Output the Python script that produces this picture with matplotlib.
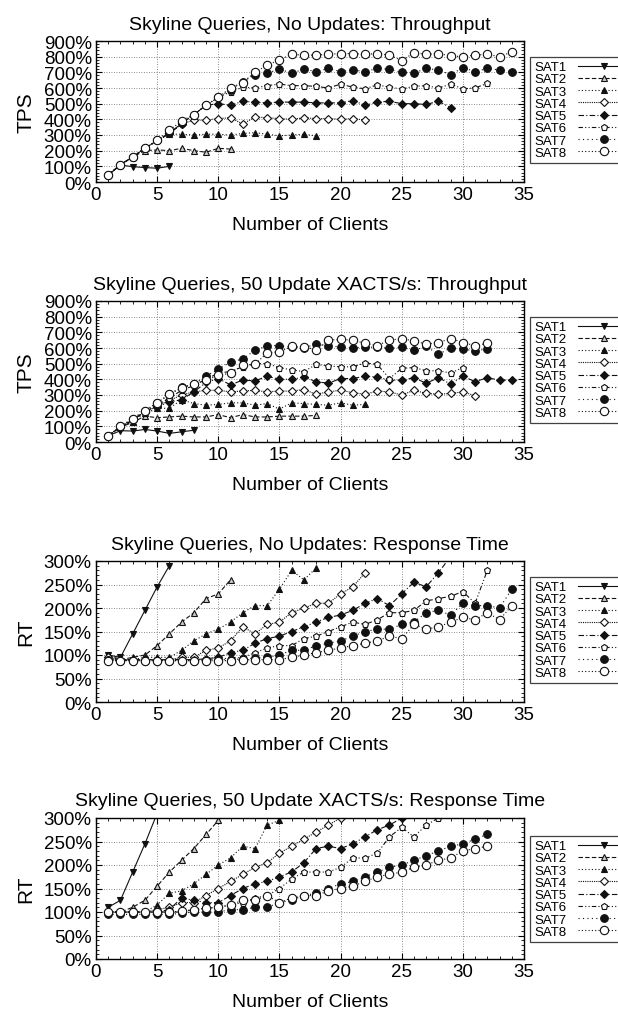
import numpy as np
import matplotlib
matplotlib.use('Agg')
import matplotlib.pyplot as plt
from matplotlib.ticker import MultipleLocator, FuncFormatter

plt.rcParams.update({'font.family': 'Liberation Sans',
                     'axes.linewidth': 1.0,
                     'xtick.direction': 'in',
                     'ytick.direction': 'in',
                     'xtick.top': True,
                     'ytick.right': True})

labels = ['SAT1', 'SAT2', 'SAT3', 'SAT4', 'SAT5', 'SAT6', 'SAT7', 'SAT8']

# Throughput, no updates (percent)
tps_noupd = [
    [45, 108, 98, 92, 88, 100],
    [45, 110, 160, 200, 205, 200, 215, 200, 190, 215, 210],
    [45, 110, 160, 215, 265, 305, 305, 300, 305, 305, 300, 310, 315, 305, 295, 300, 305, 295],
    [45, 110, 160, 215, 265, 310, 370, 395, 395, 405, 410, 370, 415, 410, 405, 400, 410, 405,
     405, 400, 405, 395],
    [45, 110, 160, 215, 265, 310, 370, 430, 490, 500, 490, 515, 510, 505, 510, 510, 510, 505,
     505, 505, 520, 490, 510, 515, 500, 500, 495, 515, 475],
    [45, 110, 160, 215, 265, 310, 375, 430, 490, 540, 575, 605, 600, 615, 625, 615, 615, 610,
     600, 625, 605, 595, 620, 605, 595, 610, 615, 600, 625, 595, 600, 630],
    [45, 110, 160, 215, 265, 310, 375, 430, 490, 540, 590, 640, 685, 695, 720, 695, 720, 705,
     725, 705, 715, 705, 725, 720, 700, 695, 725, 715, 685, 730, 705, 725, 715, 705],
    [45, 110, 160, 215, 265, 330, 390, 430, 490, 540, 600, 635, 700, 745, 780, 815, 810, 810,
     815, 820, 820, 815, 820, 810, 775, 825, 815, 820, 805, 800, 810, 815, 800, 830],
]

# Throughput, 50 update XACTS/s (percent)
tps_upd = [
    [40, 72, 70, 80, 70, 55, 65, 75],
    [40, 95, 125, 165, 155, 160, 165, 160, 160, 175, 155, 175, 160, 160, 165, 165, 165, 170],
    [40, 95, 130, 185, 215, 215, 270, 245, 235, 240, 250, 250, 235, 245, 210, 250, 245, 240,
     235, 250, 235, 240],
    [40, 95, 140, 190, 230, 265, 300, 320, 330, 330, 320, 325, 330, 320, 325, 325, 335, 305,
     320, 330, 315, 305, 325, 320, 300, 330, 310, 305, 310, 320, 295],
    [40, 95, 140, 195, 225, 255, 270, 320, 380, 405, 365, 395, 390, 420, 400, 400, 415, 385,
     375, 405, 405, 420, 415, 395, 395, 410, 375, 410, 370, 420, 385, 410, 395, 395],
    [40, 95, 140, 195, 235, 280, 330, 360, 400, 440, 450, 480, 500, 500, 475, 460, 450, 495,
     485, 480, 480, 505, 495, 405, 470, 475, 455, 455, 440, 475],
    [40, 100, 150, 200, 250, 305, 350, 370, 420, 465, 510, 530, 585, 615, 615, 605, 600, 625,
     615, 605, 600, 605, 605, 600, 605, 585, 610, 560, 600, 595, 580, 595],
    [40, 100, 145, 200, 250, 305, 345, 370, 395, 425, 440, 490, 495, 570, 575, 610, 605, 590,
     650, 655, 650, 630, 615, 650, 660, 645, 625, 635, 660, 635, 615, 630],
]

# Response time, no updates (percent)
rt_noupd = [
    [100, 95, 145, 195, 245, 290],
    [100, 90, 95, 100, 120, 145, 170, 190, 220, 230, 260],
    [95, 90, 90, 95, 95, 95, 110, 130, 145, 155, 170, 190, 205, 205, 240, 280, 260, 285],
    [95, 90, 90, 90, 90, 90, 95, 95, 110, 115, 130, 160, 145, 165, 170, 190, 200, 210, 210,
     230, 245, 275],
    [90, 90, 90, 90, 90, 90, 90, 90, 92, 95, 105, 110, 125, 135, 140, 150, 160, 170, 180, 185,
     195, 210, 220, 205, 230, 255, 245, 275, 310],
    [90, 90, 90, 90, 90, 90, 90, 90, 90, 92, 93, 95, 105, 115, 120, 120, 135, 140, 150, 160,
     170, 165, 175, 190, 190, 195, 215, 220, 225, 235, 210, 280],
    [90, 88, 88, 88, 88, 88, 88, 88, 90, 90, 90, 92, 93, 95, 100, 110, 110, 120, 125, 130,
     140, 150, 155, 155, 165, 170, 190, 195, 185, 210, 205, 205, 200, 240],
    [88, 88, 88, 88, 88, 88, 88, 88, 88, 88, 88, 90, 90, 90, 90, 95, 100, 105, 110, 115,
     120, 125, 130, 140, 135, 165, 155, 160, 170, 180, 175, 190, 175, 205],
]

# Response time, 50 update XACTS/s (percent)
rt_upd = [
    [110, 125, 185, 245, 310],
    [100, 100, 110, 125, 155, 185, 210, 235, 265, 295],
    [100, 100, 100, 100, 115, 140, 145, 160, 180, 200, 215, 240, 235, 285, 295],
    [100, 100, 100, 100, 105, 110, 120, 120, 135, 150, 165, 180, 195, 205, 225, 240, 255,
     270, 285, 300],
    [100, 100, 100, 100, 100, 105, 130, 125, 120, 120, 135, 150, 160, 165, 175, 185, 205,
     235, 240, 235, 245, 260, 275, 285, 300],
    [100, 100, 100, 100, 100, 100, 100, 105, 108, 110, 115, 120, 130, 135, 150, 170, 185,
     185, 185, 195, 215, 215, 225, 260, 280, 260, 285, 300],
    [95, 95, 95, 95, 95, 95, 97, 100, 100, 100, 105, 105, 110, 110, 120, 125, 135, 140, 150,
     160, 165, 175, 185, 195, 200, 210, 220, 230, 240, 245, 255, 265],
    [100, 100, 100, 100, 100, 100, 102, 105, 108, 110, 115, 125, 125, 135, 120, 130, 135,
     135, 145, 150, 155, 165, 175, 180, 185, 195, 200, 210, 215, 230, 235, 240],
]

titles = ['Skyline Queries, No Updates: Throughput',
          'Skyline Queries, 50 Update XACTS/s: Throughput',
          'Skyline Queries, No Updates: Response Time',
          'Skyline Queries, 50 Update XACTS/s: Response Time']
ylabels = ['TPS', 'TPS', 'RT', 'RT']

styles = [
    dict(ls='-', marker='v', mfc='#111111', ms=4.5),
    dict(ls=(0, (4, 2)), marker='^', mfc='#cccccc', ms=5),
    dict(ls=(0, (1, 2)), marker='^', mfc='#111111', ms=4.5),
    dict(ls=(0, (1, 1)), marker='D', mfc='white', ms=4),
    dict(ls=(0, (5, 2, 1, 2)), marker='D', mfc='#111111', ms=4),
    dict(ls=(0, (4, 2, 1, 2, 1, 2)), marker='p', mfc='white', ms=5),
    dict(ls=(0, (1, 3)), marker='o', mfc='#111111', ms=5.5),
    dict(ls=(0, (1, 2)), marker='o', mfc='white', ms=6),
]

fig = plt.figure(figsize=(6.18, 10.2), dpi=100)
W, H = 618.0, 1020.0
bottoms = [183, 443, 703, 960]
legtops = [58, 318, 578, 837]
panels = [tps_noupd, tps_upd, rt_noupd, rt_upd]

for k in range(4):
    ax = fig.add_axes([96 / W, 1 - bottoms[k] / H, 428 / W, 141 / H])
    for i, vals in enumerate(panels[k]):
        x = np.arange(1, len(vals) + 1)
        st = styles[i]
        ax.plot(x, vals, color='#111111', lw=0.8, ls=st['ls'], marker=st['marker'],
                mfc=st['mfc'], mec='#111111', mew=0.8, ms=st['ms'], label=labels[i])
    ax.set_xlim(0, 35)
    ax.xaxis.set_major_locator(MultipleLocator(5))
    ax.xaxis.set_minor_locator(MultipleLocator(1))
    if k < 2:
        ax.set_ylim(0, 900)
        ax.yaxis.set_major_locator(MultipleLocator(100))
        ax.yaxis.set_minor_locator(MultipleLocator(20))
    else:
        ax.set_ylim(0, 300)
        ax.yaxis.set_major_locator(MultipleLocator(50))
        ax.yaxis.set_minor_locator(MultipleLocator(10))
    ax.yaxis.set_major_formatter(FuncFormatter(lambda v, p: '%d%%' % v))
    ax.tick_params(which='major', length=4, width=0.8, labelsize=13.5, pad=3)
    ax.tick_params(which='minor', length=2, width=0.6)
    ax.grid(True, which='major', color='#666666', ls=(0, (1, 2)), lw=0.6)
    ax.set_title(titles[k], fontsize=14, pad=9)
    ax.set_xlabel('Number of Clients', fontsize=14, labelpad=9)
    ax.set_ylabel(ylabels[k], fontsize=15, labelpad=6)
    # legend runs past the right edge of the figure, as in the original
    leg = ax.legend(loc='upper left', bbox_to_anchor=(530 / W, 1 - legtops[k] / H),
                    bbox_transform=fig.transFigure, borderaxespad=0, fontsize=9.5,
                    labelspacing=0.0, handlelength=4.0, handletextpad=0.9,
                    borderpad=0.3, fancybox=False, frameon=True, markerfirst=False)
    leg.get_frame().set_edgecolor('#111111')
    leg.get_frame().set_linewidth(0.9)

fig.savefig('out.png', dpi=100)
